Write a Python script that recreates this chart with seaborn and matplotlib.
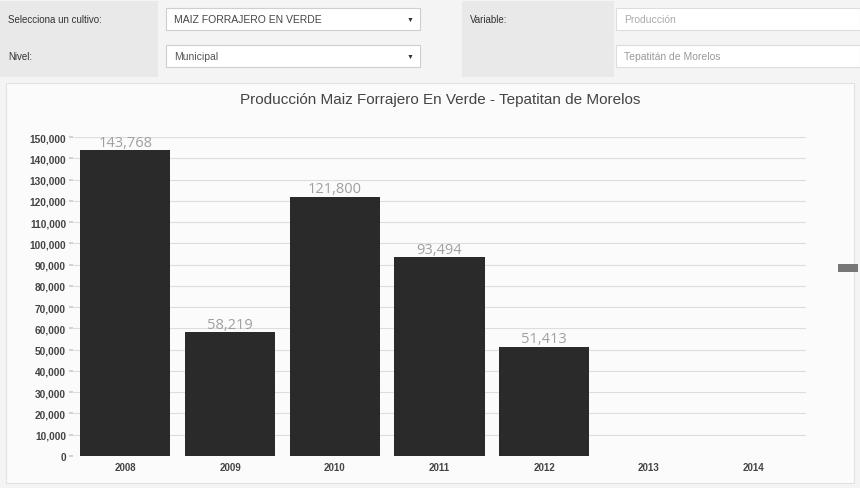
import matplotlib
matplotlib.use("Agg")
import matplotlib.pyplot as plt
import seaborn as sns
import pandas as pd
from matplotlib.patches import Rectangle

years = ["2008", "2009", "2010", "2011", "2012", "2013", "2014"]
produccion = [143768, 58219, 121800, 93494, 51413, 0, 0]
labels = ["143,768", "58,219", "121,800", "93,494", "51,413", "", ""]
yticks = list(range(0, 150001, 10000))

sns.set_theme(style="white")
plt.rcParams['font.family'] = ['Liberation Sans', 'DejaVu Sans']

fig = plt.figure(figsize=(8.6, 4.89), dpi=100)
fig.patch.set_facecolor("#f4f4f4")

W, H = 860, 489
def px(x, y, w, h):
    return (x / W, 1 - (y + h) / H, w / W, h / H)

def box(x, y, w, h, fc, ec="none"):
    fig.patches.append(Rectangle((x / W, 1 - (y + h) / H), w / W, h / H,
                                 transform=fig.transFigure, facecolor=fc,
                                 edgecolor=ec, linewidth=0.8, zorder=-5))

box(0, 2, 158, 76, "#e9e9e9")
box(462, 2, 152, 76, "#e9e9e9")
box(166, 9, 254, 22, "#ffffff", "#cfcfcf")
box(166, 46, 254, 22, "#ffffff", "#cfcfcf")
box(616, 9, 244, 22, "#ffffff", "#dddddd")
box(616, 46, 244, 22, "#ffffff", "#dddddd")
box(6, 84, 848, 400, "#fbfbfb", "#e2e2e2")

hdr = dict(fontsize=7, color="#333333", va="center")
fig.text(8 / W, 1 - 20 / H, "Selecciona un cultivo:", **hdr)
fig.text(8 / W, 1 - 57 / H, "Nivel:", **hdr)
fig.text(470 / W, 1 - 20 / H, "Variable:", **hdr)
fig.text(174 / W, 1 - 20 / H, "MAIZ FORRAJERO EN VERDE", fontsize=7.5, color="#444444", va="center")
fig.text(174 / W, 1 - 57 / H, "Municipal", fontsize=7.5, color="#555555", va="center")
fig.text(410 / W, 1 - 20 / H, "▼", fontsize=5, color="#333333", va="center", ha="center")
fig.text(410 / W, 1 - 57 / H, "▼", fontsize=5, color="#333333", va="center", ha="center")
fig.text(624 / W, 1 - 20 / H, "Producción", fontsize=7.5, color="#aaaaaa", va="center")
fig.text(624 / W, 1 - 57 / H, "Tepatitán de Morelos", fontsize=7.5, color="#999999", va="center")

fig.patches.append(Rectangle((838 / W, 1 - 273 / H), 20 / W, 8 / H,
                             transform=fig.transFigure, facecolor="#777777",
                             edgecolor="none", zorder=-4))

ax = fig.add_axes(px(73, 138, 733, 319))
ax.set_zorder(2)
ax.set_facecolor("none")
df = pd.DataFrame({"year": years, "value": produccion})
sns.barplot(data=df, x="year", y="value", ax=ax, color="#2a2a2a",
            saturation=1, width=0.86, zorder=3)
for p in ax.patches:
    p.set_edgecolor("none")

for i, (v, lab) in enumerate(zip(produccion, labels)):
    if lab:
        ax.text(i, v + 300, lab, ha="center", va="bottom", fontsize=10.5,
                color="#a0a0a0", family=["Open Sans", "DejaVu Sans"], zorder=4)

ax.set_ylim(0, 150000)
ax.set_xlim(-0.5, 6.5)
ax.set_yticks(yticks)
ax.set_yticklabels([f"{t:,}" for t in yticks], fontsize=7.3, fontweight="bold", color="#444444")
ax.set_xticks(range(len(years)))
ax.set_xticklabels(years, fontsize=7, fontweight="bold", color="#444444")
ax.yaxis.grid(True, color="#dddddd", linewidth=0.8, zorder=0)
ax.set_axisbelow(True)
ax.tick_params(axis="y", length=3, color="#cccccc", pad=2, left=True)
ax.tick_params(axis="x", length=0, pad=4)
for s in ax.spines.values():
    s.set_visible(False)
ax.set_xlabel("")
ax.set_ylabel("")

fig.text(440 / W, 1 - 100 / H, "Producción Maiz Forrajero En Verde - Tepatitan de Morelos",
         ha="center", va="center", fontsize=11, color="#444444")

fig.savefig("out.png", dpi=100, facecolor=fig.get_facecolor())
